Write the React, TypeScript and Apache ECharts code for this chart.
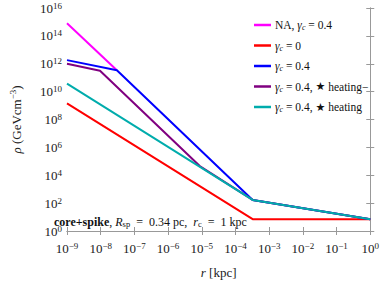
import React, { useEffect, useRef } from "react";
import * as echarts from "echarts";

// log10(r / kpc) and log10(rho / GeV cm^-3)
const naLogR = [-9, -7.52];
const naLogRho = [14.9, 11.54];
const g0LogR = [-9, -3.49, 0];
const g0LogRho = [9.15, 0.85, 0.85];
const g04LogR = [-9, -7.52, -3.49, 0];
const g04LogRho = [12.26, 11.54, 2.23, 0.85];
const hmLogR = [-9, -8.02, -5.06, -3.49, 0];
const hmLogRho = [12.0, 11.5, 4.66, 2.23, 0.85];
const hLogR = [-9, -3.49, 0];
const hLogRho = [10.57, 2.23, 0.85];

const seriesNames = ["na", "g0", "g04", "hm", "h"];
const seriesColors = ["#ff00ff", "#ff0000", "#0000ff", "#800080", "#00acac"];
const legendLabels: Record<string, string> = {
  na: "{t|NA, }{i|γ}{s|c}{t| = 0.4}",
  g0: "{i|γ}{s|c}{t| = 0}",
  g04: "{i|γ}{s|c}{t| = 0.4}",
  hm: "{i|γ}{s|c}{t| = 0.4, }{st|★}{t| heating−}",
  h: "{i|γ}{s|c}{t| = 0.4, }{st|★}{t| heating}",
};

const xMin = -9, xMax = 0, xStep = 1;
const yMin = 0, yMax = 16, yStep = 2;

const FONT = "Liberation Serif";
const NB = "\u00a0";

const pairs = (xs: number[], ys: number[]) => xs.map((x, i) => [x, ys[i]]);

const expLabel = (v: number) => {
  const e = v < 0 ? "−" + Math.abs(v) : String(v);
  return `{b|10}{s|${e}}`;
};

const tickRich = {
  b: { fontFamily: FONT, fontSize: 13, color: "#222", lineHeight: 14 },
  s: { fontFamily: FONT, fontSize: 9, color: "#222", verticalAlign: "top", lineHeight: 14, padding: [0, 0, 5, 0] },
};

export default function App() {
  const ref = useRef<HTMLDivElement>(null);
  useEffect(() => {
    document.body.style.margin = "0";
    if (!ref.current) return;
    const chart = echarts.init(ref.current, null, { renderer: "svg" });
    const axisLine = { lineStyle: { color: "#999", width: 1 } };
    const axisTick = { inside: true, length: 4, lineStyle: { color: "#999" } };
    const data = [
      pairs(naLogR, naLogRho),
      pairs(g0LogR, g0LogRho),
      pairs(g04LogR, g04LogRho),
      pairs(hmLogR, hmLogRho),
      pairs(hLogR, hLogRho),
    ];
    const annText =
      `{b|core+spike}{t|,${NB}}{i|R}{s|sp}{t|${NB}${NB}=${NB}${NB}0.34${NB}pc,${NB}${NB}}` +
      `{i|r}{s|c}{t|${NB}${NB}=${NB}${NB}1${NB}kpc}`;
    chart.setOption({
      animation: false,
      grid: { left: 50, right: 11, top: 8, bottom: 43 },
      xAxis: [
        {
          type: "value", min: xMin, max: xMax, interval: xStep,
          axisLine, axisTick, splitLine: { show: false },
          axisLabel: { formatter: expLabel, rich: tickRich, margin: 10 },
          name: "{i|r} {t|[kpc]}", nameLocation: "middle", nameGap: 35,
          nameTextStyle: {
            rich: {
              i: { fontFamily: FONT, fontStyle: "italic", fontSize: 13, color: "#222" },
              t: { fontFamily: FONT, fontSize: 13, color: "#222" },
            },
          },
        },
        {
          type: "value", position: "top", min: xMin, max: xMax, interval: xStep,
          axisLine, axisTick, axisLabel: { show: false }, splitLine: { show: false },
        },
      ],
      yAxis: [
        {
          type: "value", min: yMin, max: yMax, interval: yStep,
          axisLine: { show: true, ...axisLine }, axisTick: { show: true, ...axisTick }, splitLine: { show: false },
          axisLabel: { formatter: expLabel, rich: tickRich, margin: 5 },
          name: "{i|ρ} {t|(GeVcm}{s|−3}{t|)}", nameLocation: "middle", nameGap: 43, nameRotate: 90,
          nameTextStyle: {
            rich: {
              i: { fontFamily: FONT, fontStyle: "italic", fontSize: 13, color: "#222", lineHeight: 16 },
              t: { fontFamily: FONT, fontSize: 13, color: "#222", lineHeight: 16 },
              s: { fontFamily: FONT, fontSize: 9, color: "#222", verticalAlign: "top", lineHeight: 16, padding: [0, 0, 7, 0] },
            },
          },
        },
        {
          type: "value", position: "right", min: yMin, max: yMax, interval: yStep,
          axisLine: { show: true, ...axisLine }, axisTick: { show: true, ...axisTick },
          axisLabel: { show: false }, splitLine: { show: false },
        },
      ],
      legend: {
        left: 249, top: 14, orient: "vertical", itemGap: 8,
        itemWidth: 17, itemHeight: 2.5, icon: "rect",
        data: seriesNames,
        formatter: (n: string) => legendLabels[n],
        textStyle: {
          padding: [0, 0, 0, -1],
          rich: {
            t: { fontFamily: FONT, fontSize: 11.5, color: "#111", lineHeight: 13 },
            i: { fontFamily: FONT, fontStyle: "italic", fontSize: 11.5, color: "#111", lineHeight: 13 },
            s: { fontFamily: FONT, fontStyle: "italic", fontSize: 8, color: "#111", verticalAlign: "bottom", lineHeight: 13, padding: [4, 0, 0, 0] },
            st: { fontFamily: "DejaVu Sans", fontSize: 11, color: "#111", lineHeight: 13 },
          },
        },
      },
      graphic: [
        {
          type: "text", left: 54, top: 215,
          style: {
            text: annText,
            rich: {
              b: { fontFamily: FONT, fontWeight: "bold", fontSize: 12, fill: "#111", lineHeight: 13 },
              t: { fontFamily: FONT, fontSize: 12, fill: "#111", lineHeight: 13 },
              i: { fontFamily: FONT, fontStyle: "italic", fontSize: 12, fill: "#111", lineHeight: 13 },
              s: { fontFamily: FONT, fontSize: 8.5, fill: "#111", verticalAlign: "bottom", lineHeight: 13, padding: [4, 0, 0, 0] },
            },
          },
        },
      ],
      series: seriesNames.map((n, i) => ({
        name: n, type: "line", data: data[i], showSymbol: false, symbol: "none",
        lineStyle: { color: seriesColors[i], width: 2 }, itemStyle: { color: seriesColors[i] },
        z: 2 + i,
      })),
    });
    return () => chart.dispose();
  }, []);
  return <div ref={ref} style={{ width: 382, height: 284 }} />;
}
